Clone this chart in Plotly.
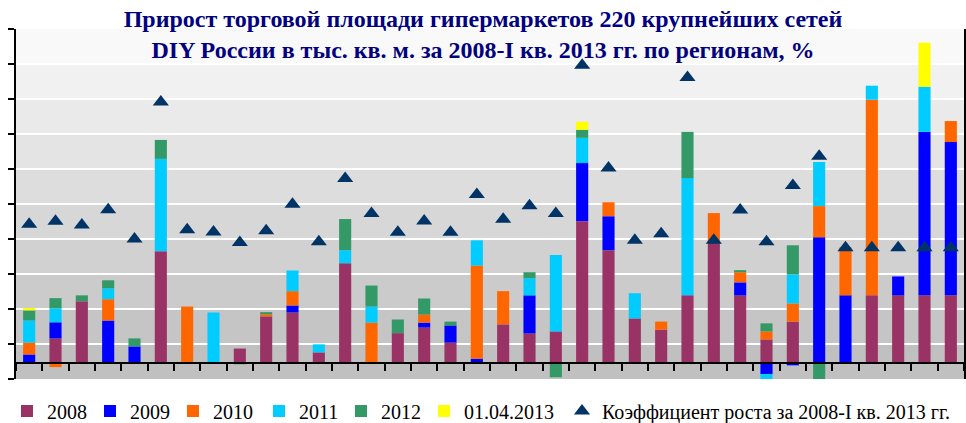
import plotly.graph_objects as go

# 36 регионов (названия на диаграмме не подписаны)
regions = [f"Регион {i}" for i in range(1, 37)]

# прирост торговой площади, тыс. кв. м.
v2008 = [0, 7.0, 17.6, 0, 0, 31.9, 0, 0, 4.1, 13.3, 14.4, 3.0, 28.5, 0, 8.5, 10.1, 5.8, 0,
         11.0, 8.4, 9.0, 40.5, 32.2, 12.7, 9.5, 19.3, 34.9, 19.3, 6.7, 11.8, 0, 0, 19.3, 19.3, 19.3, 19.3]
v2009 = [2.4, 4.6, 0, 12.1, 4.7, 0, 0, 0, 0, 0, 2.0, 0, 0, 0, 0, 1.4, 4.9, 1.2,
         0, 10.9, 0, 16.6, 9.7, 0, 0, 0, 0, 3.7, -3.2, -0.7, 35.9, 19.3, 0, 5.4, 46.7, 43.8]
v2010 = [3.4, -1.2, 0, 6.1, 0, 0, 16.1, 0, 0, 0.6, 4.1, 0, 0, 11.5, 0, 2.3, 0, 26.6,
         9.5, 0, 0, 0, 4.0, 0, 2.3, 0, 7.9, 2.9, 2.3, 5.2, 8.9, 13.7, 55.9, 0, 0, 6.0]
v2011 = [6.3, 4.0, 0, 3.1, 0, 26.4, 0, 14.4, 0, 0, 5.9, 2.3, 3.7, 4.6, 0, 0, 0, 7.2,
         0, 4.9, 21.8, 7.2, 0, 7.2, 0, 33.5, 0, 0, -1.7, 8.3, 12.6, 0, 4.0, 0, 12.9, 0]
v2012 = [2.9, 2.9, 1.7, 2.3, 2.3, 5.4, 0, 0, -0.4, 0.6, 0, 0, 8.9, 6.0, 3.9, 4.6, 1.1, 0,
         0, 1.7, -4.1, 2.3, 0, 0, 0, 13.2, 0, 0.6, 2.3, 8.3, -4.7, 0, 0, 0, 0, 0]
v2013 = [0.7, 0, 0, 0, 0, 0, 0, 0, 0, 0, 0, 0, 0, 0, 0, 0, 0, 0,
         0, 0, 0, 2.3, 0, 0, 0, 0, 0, 0, 0, 0, 0, 0, 0, 0, 12.6, 0]

# коэффициент роста за 2008-I кв. 2013 гг., %
growth = [141.6, 144.3, 140.8, 154.8, 127.9, 253.2, 136.5, 134.5, 124.7, 135.6, 159.8, 125.6,
          183.3, 151.3, 134.1, 144.5, 134.1, 168.8, 146.1, 158.4, 151.3, 286.9, 192.9, 126.9,
          132.7, 275.6, 126.9, 154.5, 125.4, 177.0, 203.7, 120.1, 120.1, 120.1, 120.1, 120.1]

series = [
    ("2008", v2008, "#993366", 38),
    ("2009", v2009, "#0000FF", 38),
    ("2010", v2010, "#FF6600", 41),
    ("2011", v2011, "#00CCFF", 37),
    ("2012", v2012, "#339966", 38),
    ("01.04.2013", v2013, "#FFFF00", 93),
]

fig = go.Figure()

for name, vals, color, lw in series:
    fig.add_trace(go.Bar(
        x=regions, y=vals, name=name,
        marker=dict(color=color, line=dict(width=0)),
        width=0.46, legendwidth=lw,
        hovertemplate='%{x}<br>' + name + ': %{y:.1f}<extra></extra>'
    ))

fig.add_trace(go.Scatter(
    x=regions, y=growth, yaxis="y2", mode="markers",
    name="Коэффициент роста за 2008-I кв. 2013 гг.",
    marker=dict(symbol="triangle-up", size=14, color="#003366"),
    legendwidth=360,
    hovertemplate='%{x}<br>%{y:.1f}%<extra></extra>'
))

# градиентная заливка области построения (полосами между линиями сетки)
band_colors = ["#f9f9f9", "#f1f1f1", "#eaeaea", "#e4e4e4", "#dddddd",
               "#d7d7d7", "#d1d1d1", "#cbcbcb", "#c5c5c5", "#c0c0c0"]
shapes = []
for i, c in enumerate(band_colors):
    shapes.append(dict(type="rect", xref="paper", yref="paper",
                       x0=0, x1=1, y0=1 - (i + 1) / 10, y1=1 - i / 10,
                       fillcolor=c, line=dict(width=0), layer="below"))

fig.update_layout(
    width=966, height=423,
    barmode="relative",
    title=dict(
        text="<b>Прирост торговой площади гипермаркетов 220 крупнейших сетей<br>"
             "DIY России в тыс. кв. м. за 2008-I кв. 2013 гг. по регионам, %</b>",
        x=0.5, xanchor="center", y=0.937, yanchor="top",
        font=dict(family="Liberation Serif", size=24, color="#000080")
    ),
    xaxis=dict(
        type="category", range=[-0.5, 35.5], anchor="free", position=0.046,
        showline=True, linecolor="black", linewidth=2,
        ticks="outside", tickson="boundaries", ticklen=7, tickwidth=2, tickcolor="black",
        showticklabels=False, showgrid=False
    ),
    yaxis=dict(
        range=[-4.6, 95.4], tick0=-4.6, dtick=10,
        showline=True, linecolor="black", linewidth=2,
        ticks="outside", ticklen=6, tickwidth=1.5, tickcolor="black",
        showticklabels=False, showgrid=True, gridcolor="white", gridwidth=2,
        zeroline=False
    ),
    yaxis2=dict(
        overlaying="y", side="right", range=[0, 320], dtick=20,
        showline=True, linecolor="black", linewidth=2,
        ticks="outside", ticklen=5, tickwidth=1.5, tickcolor="black",
        showticklabels=False, showgrid=False, zeroline=False
    ),
    shapes=shapes,
    showlegend=True,
    legend=dict(
        orientation="h", x=-0.0095, xanchor="left", y=-0.0914, yanchor="middle",
        font=dict(family="Liberation Serif", size=20, color="black"),
        bgcolor="rgba(0,0,0,0)", tracegroupgap=0
    ),
    paper_bgcolor="white",
    plot_bgcolor="white",
    font=dict(family="Liberation Serif", size=14, color="black"),
    margin=dict(l=16, r=2, t=29, b=44, autoexpand=False)
)

# убираем стандартный отступ body в 8px, чтобы график стоял в углу окна
fig.write_html("out.html", config={"displayModeBar": False},
               post_script="document.body.style.margin='0';")
